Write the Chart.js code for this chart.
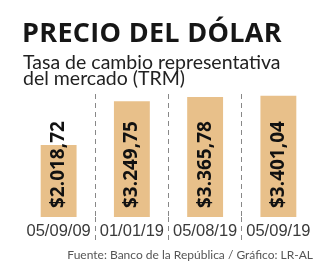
<!DOCTYPE html>
<html>
<head>
<meta charset="utf-8">
<script src="https://cdn.jsdelivr.net/npm/chart.js@4/dist/chart.umd.min.js"></script>
<style>
  html, body { margin: 0; padding: 0; background: #fff; }
  #wrap { position: relative; width: 336px; height: 280px; overflow: hidden; }
  #chart { position: absolute; left: 0; top: 0; }
  .txt { position: absolute; white-space: nowrap; }
  #title { left: 22px; top: 19px; font-family: "Open Sans", sans-serif; font-size: 27px; line-height: 26px; font-weight: 700; letter-spacing: 0.3px; color: #161616; }
  #subtitle { left: 23px; top: 54px; font-family: Lato, sans-serif; font-size: 19.5px; line-height: 16px; color: #222; }
  #source { right: 23px; top: 248px; font-family: Lato, sans-serif; font-size: 12px; line-height: 13px; color: #555; }
</style>
</head>
<body>
<div id="wrap">
  <canvas id="chart" width="336" height="280"></canvas>
  <div class="txt" id="title">PRECIO DEL DÓLAR</div>
  <div class="txt" id="subtitle">Tasa de cambio representativa<br>del mercado (TRM)</div>
  <div class="txt" id="source">Fuente: Banco de la República / Gráfico: LR-AL</div>
</div>
<script>
const dates = ["05/09/09", "01/01/19", "05/08/19", "05/09/19"];
const rates = [2018.72, 3249.75, 3365.78, 3401.04];
const rateLabels = ["$2.018,72", "$3.249,75", "$3.365,78", "$3.401,04"];

const barColor = "#e8c08a";
const dashColor = (ctx) => (ctx.type === "tick" && ctx.index > 0 ? "#888" : "rgba(0,0,0,0)");

const valueLabels = {
  id: "valueLabels",
  afterDatasetsDraw(chart) {
    const { ctx } = chart;
    const meta = chart.getDatasetMeta(0);
    ctx.save();
    ctx.font = "bold 19px 'Open Sans', sans-serif";
    ctx.fillStyle = "#111";
    ctx.textAlign = "left";
    ctx.textBaseline = "middle";
    meta.data.forEach((bar, i) => {
      ctx.save();
      ctx.translate(bar.x, bar.base - 9);
      ctx.rotate(-Math.PI / 2);
      ctx.fillText(rateLabels[i], 0, 0);
      ctx.restore();
    });
    ctx.restore();
  },
};

new Chart(document.getElementById("chart"), {
  type: "bar",
  data: {
    labels: dates,
    datasets: [
      {
        data: rates,
        backgroundColor: barColor,
        borderWidth: 0,
        barPercentage: 0.98,
        categoryPercentage: 0.5,
      },
    ],
  },
  options: {
    responsive: false,
    animation: false,
    layout: {
      padding: { top: 94, left: 22, right: 21, bottom: 0 },
    },
    plugins: {
      legend: { display: false },
      tooltip: { enabled: false },
    },
    scales: {
      x: {
        offset: true,
        border: { display: false, dash: [5, 4] },
        grid: {
          offset: true,
          color: dashColor,
          tickColor: dashColor,
          lineWidth: 1,
          tickBorderDash: [5, 4],
          tickLength: 23,
          drawOnChartArea: true,
        },
        ticks: {
          color: "#3a3a3a",
          padding: -18,
          maxRotation: 0,
          minRotation: 0,
          autoSkip: false,
          font: { family: "'Liberation Sans', sans-serif", size: 16.5 },
        },
        afterFit(scale) {
          scale.height = 63;
        },
      },
      y: {
        display: false,
        min: 0,
        max: 3450,
      },
    },
  },
  plugins: [valueLabels],
});
</script>
</body>
</html>
